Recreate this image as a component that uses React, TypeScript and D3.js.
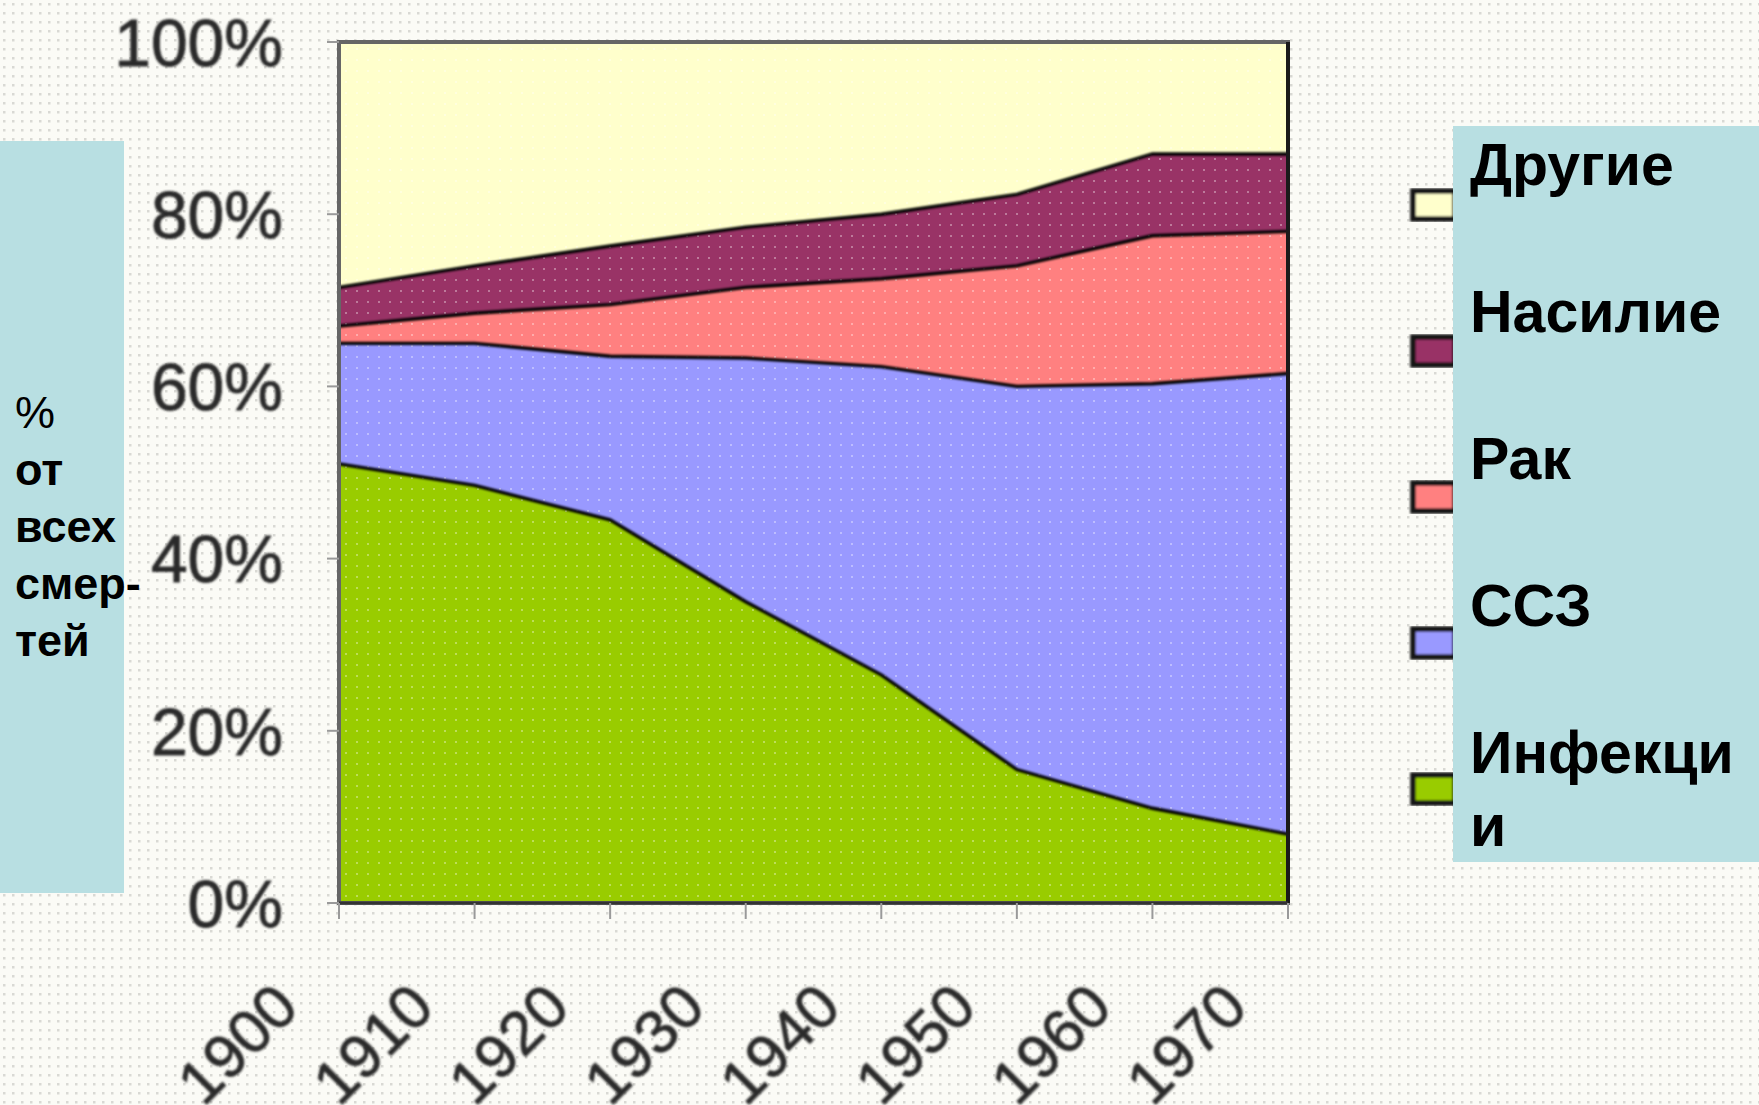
import React from 'react';
import * as d3 from 'd3';

// share of all deaths, %, by cause
const years = [1900, 1910, 1920, 1930, 1940, 1950, 1960, 1970];
const infections = [51, 48.5, 44.5, 35, 26.5, 15.5, 11, 8];
const cvd = [14, 16.5, 19, 28.3, 35.8, 44.5, 49.3, 53.5];
const cancer = [2, 3.5, 6, 8.2, 10.2, 14, 17.2, 16.5];
const violence = [4.5, 5.5, 6.8, 7, 7.5, 8.3, 9.5, 9];
const others = [28.5, 26, 23.7, 21.5, 20, 17.7, 13, 13];

const seriesKeys = ['inf', 'cvd', 'cancer', 'violence', 'other'];
const seriesColors = ['#99cc00', '#9999ff', '#ff8080', '#993366', '#ffffcc'];
// legend goes top-down: other ... inf
const legendLines = [['Другие'], ['Насилие'], ['Рак'], ['ССЗ'], ['Инфекци', 'и']];
const yTicks = [0, 20, 40, 60, 80, 100];
const yAxisLines = ['%', 'от', 'всех', 'смер-', 'тей'];

const W = 1759;
const H = 1105;
const margin = {left: 339, right: 1288, top: 42, bottom: 903};

function App() {
    const x = d3.scaleLinear().domain([1900, 1970]).range([margin.left, margin.right]);
    const y = d3.scaleLinear().domain([0, 100]).range([margin.bottom, margin.top]);

    const table = years.map((yr, i) => ({
        year: yr,
        inf: infections[i],
        cvd: cvd[i],
        cancer: cancer[i],
        violence: violence[i],
        other: others[i],
    }));
    const stacked = d3.stack<any>().keys(seriesKeys)(table);

    const area = d3.area<any>()
        .x(d => x(d.data.year))
        .y0(d => y(d[0]))
        .y1(d => y(Math.min(d[1], 100)));
    const topLine = d3.line<any>()
        .x(d => x(d.data.year))
        .y(d => y(d[1]));

    const font = "'Liberation Sans', Arial, sans-serif";

    return (
        <div style={{position: 'absolute', left: 0, top: 0}}>
            <svg width={W} height={H} style={{display: 'block'}}>
                <defs>
                    <pattern id="bgdots" width="9" height="9" patternUnits="userSpaceOnUse">
                        <rect width="9" height="9" fill="#fbfbf6"/>
                        <rect x="3" y="3" width="2.5" height="2.5" fill="#d9d9d4"/>
                    </pattern>
                    <pattern id="fgdots" width="11" height="11" patternUnits="userSpaceOnUse">
                        <rect x="4" y="4" width="2" height="2" fill="#ffffff" opacity="0.35"/>
                    </pattern>
                    <filter id="soft">
                        <feGaussianBlur stdDeviation="0.8"/>
                    </filter>
                </defs>
                <rect width={W} height={H} fill="url(#bgdots)"/>

                {/* stacked areas */}
                <g>
                    {stacked.map((s, i) => (
                        <path key={s.key} d={area(s) || ''} fill={seriesColors[i]}/>
                    ))}
                    <rect x={margin.left} y={margin.top} width={margin.right - margin.left}
                          height={margin.bottom - margin.top} fill="url(#fgdots)"/>
                    {stacked.slice(0, 4).map(s => (
                        <path key={'l' + s.key} d={topLine(s) || ''} fill="none"
                              stroke="#000" strokeWidth={3.4} filter="url(#soft)"/>
                    ))}
                </g>

                {/* frame */}
                <rect x={margin.left} y={margin.top} width={margin.right - margin.left}
                      height={margin.bottom - margin.top} fill="none" stroke="#666" strokeWidth={4}/>
                <line x1={margin.right} x2={margin.right} y1={margin.top} y2={margin.bottom}
                      stroke="#1a1a1a" strokeWidth={4}/>
                <line x1={margin.left} x2={margin.right} y1={margin.bottom} y2={margin.bottom}
                      stroke="#333" strokeWidth={3}/>

                {/* y axis */}
                <g>
                    {yTicks.map(t => (
                        <g key={t}>
                            <line x1={margin.left - 12} x2={margin.left} y1={y(t)} y2={y(t)}
                                  stroke="#9a9a9a" strokeWidth={2}/>
                            <text x={283} y={y(t)} dy="0.36em" textAnchor="end" fontFamily={font}
                                  fontSize={66} fill="#2a2a2a" stroke="#2a2a2a" strokeWidth={0.8}
                                  filter="url(#soft)">{t}%</text>
                        </g>
                    ))}
                </g>

                {/* x axis */}
                <g>
                    {years.map(yr => (
                        <g key={yr}>
                            <line x1={x(yr)} x2={x(yr)} y1={margin.bottom} y2={margin.bottom + 16}
                                  stroke="#9a9a9a" strokeWidth={2}/>
                            <text transform={`translate(${x(yr) - 38},${1010}) rotate(-45)`}
                                  textAnchor="end" fontFamily={font} fontSize={62} fill="#2a2a2a"
                                  stroke="#2a2a2a" strokeWidth={0.8} filter="url(#soft)">{yr}</text>
                        </g>
                    ))}
                </g>

                {/* legend swatches, partly hidden by the box */}
                {legendLines.map((_, i) => {
                    const color = seriesColors[seriesColors.length - 1 - i];
                    const cy = 205 + i * 146;
                    return (
                        <rect key={i} x={1413} y={cy - 14} width={42} height={28} fill={color}
                              stroke="#151515" strokeWidth={5.5} filter="url(#soft)"/>
                    );
                })}

                {/* left label box */}
                <rect x={0} y={141} width={124} height={752} fill="#b8dfe2"/>
                {yAxisLines.map((ln, i) => (
                    <text key={ln} x={15} y={428 + i * 57} fontFamily={font} fontSize={45}
                          fontWeight={i === 0 ? 'normal' : 'bold'} fill="#000">{ln}</text>
                ))}

                {/* right legend box */}
                <rect x={1453} y={126} width={W - 1453} height={736} fill="#b8dfe2"/>
                {legendLines.map((lines, i) => (
                    lines.map((ln, j) => (
                        <text key={i + '-' + j} x={1470} y={185 + i * 147 + j * 73} fontFamily={font}
                              fontSize={59} fontWeight="bold" fill="#000">{ln}</text>
                    ))
                ))}
            </svg>
        </div>
    );
}

export default App;
